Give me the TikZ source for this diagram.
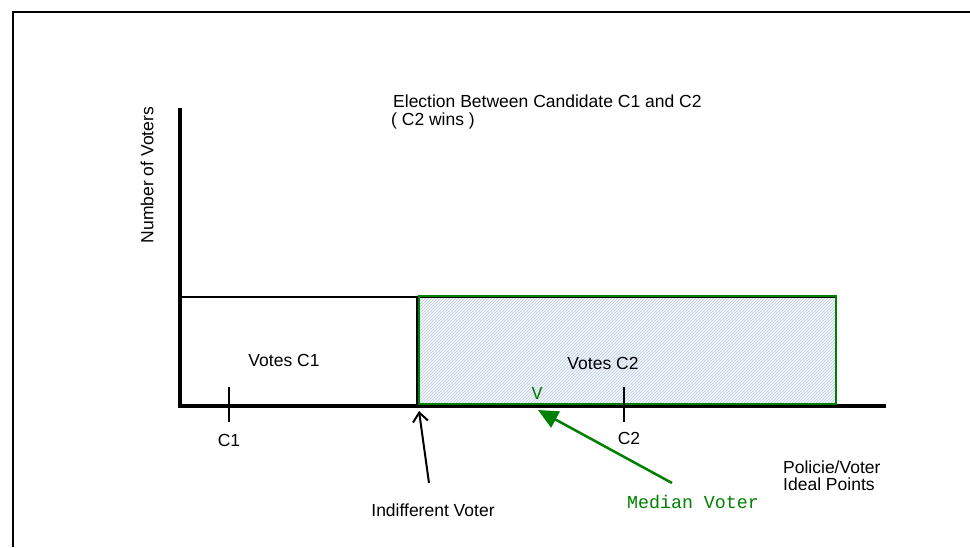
\documentclass[tikz,border=0pt]{standalone}
\usepackage{fontspec}
\setmainfont{Liberation Sans}
\newfontfamily\monofont{Liberation Mono}
\usetikzlibrary{patterns,arrows.meta}
\definecolor{dgreen}{RGB}{0,128,0}
\definecolor{hatchfill}{RGB}{242,246,251}
\definecolor{hatchline}{RGB}{190,205,226}
\begin{document}
\begin{tikzpicture}[x=1pt,y=-1pt,
  lbl/.style={inner sep=0pt,font=\fontsize{17.5}{17}\selectfont},
  mlbl/.style={inner sep=0pt,text=dgreen,font=\monofont\fontsize{18.3}{18}\selectfont},
  axisline/.style={line width=4pt},
  tickline/.style={line width=2pt},
  ptr/.style={line width=2pt,-{Straight Barb[length=9pt,width=15pt,line width=2pt]}},
  gptr/.style={dgreen,line width=2.5pt,-{Triangle[length=20pt,width=18pt]}}]
\useasboundingbox (0,0) rectangle (970,547);
% frame
\draw[line width=2pt] (13,547) -- (13,12) -- (975,12);
% hatched region
\fill[hatchfill] (419,296) rectangle (836,405);
\fill[pattern=north east lines,pattern color=hatchline] (419,296) rectangle (836,405);
% box top line and divider
\draw[line width=2.5pt] (180,297) -- (836,297);
\draw[line width=2pt] (417,297) -- (417,406);
% axes
\coordinate (origin) at (180,406);
\coordinate (yend) at (180,108);
\coordinate (xend) at (886,406);
\draw[axisline] (yend) -- (origin) -- (xend);
% green rectangle outline
\draw[dgreen,line width=2pt] (419,296) rectangle (836,404);
% ticks
\coordinate (t1a) at (229,387); \coordinate (t1b) at (229,422);
\coordinate (t2a) at (624,387); \coordinate (t2b) at (624,422);
\draw[tickline] (t1a) -- (t1b);
\draw[tickline] (t2a) -- (t2b);
% texts
\node[lbl,anchor=west] (title1) at (393,101.5) {Election Between Candidate C1 and C2};
\node[lbl,anchor=west] (title2) at (391,121) {( C2 wins )};
\node[lbl,rotate=90] (ylab) at (147,175) {Number of Voters};
\node[lbl] (v1) at (284,360) {Votes C1};
\node[lbl] (v2) at (603,363) {Votes C2};
\node[lbl] (c1) at (229,440) {C1};
\node[lbl] (c2) at (629,438) {C2};
\node[lbl,align=left,anchor=west] (xlab) at (783,476) {Policie/Voter\\Ideal Points};
\node[lbl] (indiff) at (433,510) {Indifferent Voter};
\node[mlbl] (vv) at (537,393) {V};
\node[mlbl] (median) at (693,502) {Median Voter};
% arrows
\coordinate (ia) at (429,483); \coordinate (ib) at (419,411);
\draw[ptr] (ia) -- (ib);
\coordinate (ma) at (672,483); \coordinate (mb) at (538,410);
\draw[gptr] (ma) -- (mb);
\end{tikzpicture}
\end{document}
